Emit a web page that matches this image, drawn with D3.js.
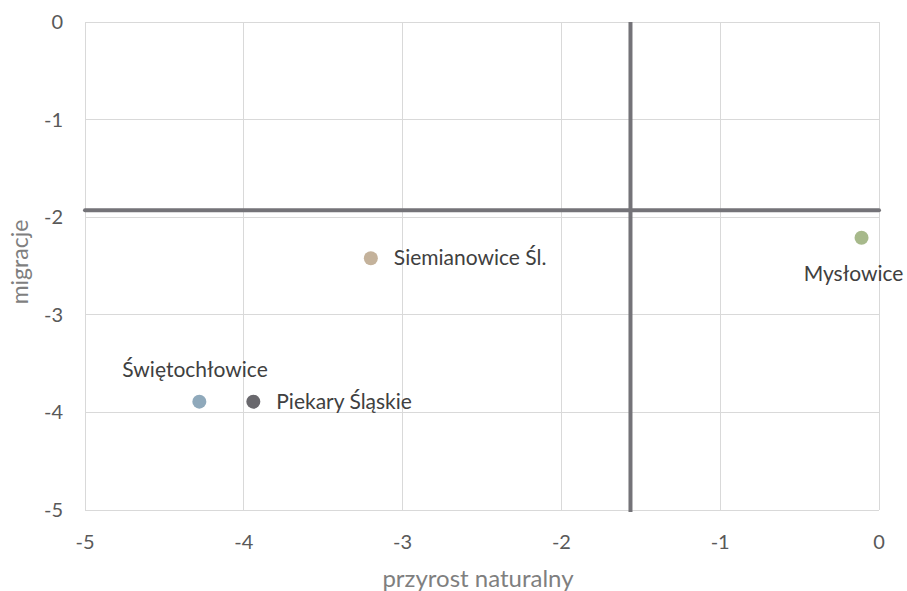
<!DOCTYPE html>
<html><head><meta charset="utf-8">
<script src="https://cdn.jsdelivr.net/npm/d3@7"></script>
<style>body{margin:0;background:#fff}svg{display:block}</style>
</head><body><svg id="c" width="907" height="591"></svg>
<script>
const cities = ["Mysłowice","Siemianowice Śl.","Świętochłowice","Piekary Śląskie"];
const naturalGrowth = [-0.11,-3.2,-4.28,-3.94];
const migration = [-2.21,-2.42,-3.89,-3.89];
const dotColors = ["#a7b98b","#c4b29b","#8fa9bb","#69686d"];
const labelPos = ["below","right","aboveLeft","right"];
const xTicks = [-5,-4,-3,-2,-1,0];
const yTicks = [0,-1,-2,-3,-4,-5];
const meanX = -1.565, meanY = -1.93;

const svg = d3.select("#c");
const L=85,R=879,T=22,B=510;
const x = d3.scaleLinear().domain([-5,0]).range([L,R]);
const y = d3.scaleLinear().domain([-5,0]).range([B,T]);
const font = "Lato, 'Open Sans', sans-serif";

// grid
svg.append("g").selectAll("line").data(xTicks).join("line")
 .attr("x1",d=>x(d)).attr("x2",d=>x(d)).attr("y1",T).attr("y2",B)
 .attr("stroke","#d9d9d9").attr("stroke-width",1).attr("shape-rendering","crispEdges");
svg.append("g").selectAll("line").data(yTicks).join("line")
 .attr("y1",d=>y(d)).attr("y2",d=>y(d)).attr("x1",L).attr("x2",R)
 .attr("stroke","#d9d9d9").attr("stroke-width",1).attr("shape-rendering","crispEdges");

// tick labels
svg.append("g").selectAll("text").data(xTicks).join("text")
 .attr("x",d=>x(d)).attr("y",549).attr("text-anchor","middle")
 .attr("font-family",font).attr("font-size",20).attr("fill","#595959").text(d=>d);
svg.append("g").selectAll("text").data(yTicks).join("text")
 .attr("x",63).attr("y",d=>y(d)+7).attr("text-anchor","end")
 .attr("font-family",font).attr("font-size",20).attr("fill","#595959").text(d=>d);

// axis titles
svg.append("text").attr("x",478).attr("y",587).attr("text-anchor","middle")
 .attr("font-family",font).attr("font-size",24).attr("fill","#7f7f7f").text("przyrost naturalny");
svg.append("text").attr("transform",`translate(28,262) rotate(-90)`).attr("text-anchor","middle")
 .attr("font-family",font).attr("font-size",23).attr("fill","#7f7f7f").text("migracje");

// mean lines
svg.append("line").attr("x1",x(meanX)).attr("x2",x(meanX)).attr("y1",T).attr("y2",B+2)
 .attr("stroke","#747378").attr("stroke-width",4);
svg.append("line").attr("x1",L).attr("x2",R).attr("y1",y(meanY)).attr("y2",y(meanY))
 .attr("stroke","#747378").attr("stroke-width",4).attr("stroke-linecap","round");

// points
const pts = cities.map((c,i)=>({c,x:naturalGrowth[i],y:migration[i],col:dotColors[i],pos:labelPos[i]}));
svg.append("g").selectAll("circle").data(pts).join("circle")
 .attr("cx",d=>x(d.x)).attr("cy",d=>y(d.y)).attr("r",7).attr("fill",d=>d.col);
svg.append("g").selectAll("text").data(pts).join("text")
 .attr("font-family",font).attr("font-size",21).attr("fill","#404040")
 .attr("x",d=>d.pos==="right"?x(d.x)+23:d.pos==="below"?x(d.x)-8:x(d.x)-77)
 .attr("y",d=>d.pos==="right"?y(d.y)+7:d.pos==="below"?y(d.y)+43:y(d.y)-25)
 .attr("text-anchor",d=>d.pos==="below"?"middle":"start")
 .text(d=>d.c);
</script></body></html>
